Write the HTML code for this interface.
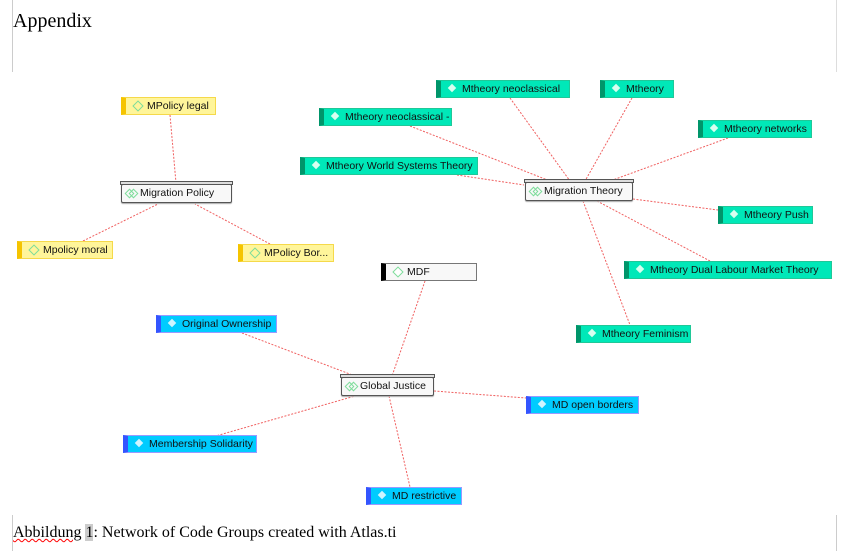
<!DOCTYPE html>
<html><head><style>
body{margin:0;width:844px;height:551px;background:#fff;position:relative;overflow:hidden;font-family:"Liberation Sans",Arial,sans-serif}
.n{position:absolute;height:18px;box-sizing:border-box;font-size:10.5px;line-height:16px;color:#111;padding-left:21px;white-space:nowrap;border:1px solid}
.n:before{content:"";position:absolute;left:8px;top:4px;width:6px;height:6px;transform:rotate(45deg);}
.y{background:#fff59a;border-color:#f5d94a;border-left:5px solid #f5c400}
.y:before{border:1px solid #7ddc9a;background:#fff59a}
.g{background:#00e8b8;border-color:#20c898;border-left:5px solid #00956a}
.g:before{background:#d8fff0}
.b{background:#00ccff;border-color:#9999ff;border-left:5px solid #3355ff}
.b:before{background:#d0f4ff}
.w{background:#f8f8f8;border-color:#777;border-left:5px solid #000}
.w:before{border:1px solid #7ddc9a;background:#fff}
.grp{position:absolute;height:19px;box-sizing:border-box;border:1px solid #555;border-radius:2px;background:#f8f8f8;font-size:10.5px;line-height:17px;padding-left:18px;color:#111;box-shadow:0 1px 1px #aaa}
.grp:before{content:"";position:absolute;left:-2px;right:-2px;top:-4px;height:2px;border:1px solid #555;background:#ddd}
.gi{position:absolute;left:4px;top:5px;width:5px;height:5px;border:1px solid #7ddc9a;transform:rotate(45deg)}
.gi2{left:8px}
.t{position:absolute;font-family:"Liberation Serif",serif;color:#000}
</style></head><body>
<div style="position:absolute;left:12px;top:0;width:1px;height:72px;background:#ccc"></div>
<div style="position:absolute;left:836px;top:0;width:1px;height:72px;background:#ddd"></div>
<div style="position:absolute;left:12px;top:515px;width:1px;height:36px;background:#ccc"></div>
<div style="position:absolute;left:836px;top:515px;width:1px;height:36px;background:#ccc"></div>
<div class="t" style="left:13px;top:10px;font-size:20px">Appendix</div>
<div class="t" style="left:13px;top:524px;font-size:16px"><span style="text-decoration:underline wavy red;text-decoration-thickness:1px">Abbildung</span> <span style="background:#ccc">1</span>: Network of Code Groups created with Atlas.ti</div>
<svg width="844" height="551" style="position:absolute;left:0;top:0" fill="none" stroke="#f06060" stroke-width="1" stroke-dasharray="2,1.5">
<line x1="170" y1="115" x2="176" y2="183"/>
<line x1="83" y1="241" x2="158" y2="204"/>
<line x1="270" y1="244" x2="195" y2="204"/>
<line x1="510" y1="98" x2="570" y2="181"/>
<line x1="632" y1="98" x2="585" y2="181"/>
<line x1="410" y1="126" x2="550" y2="181"/>
<line x1="457" y1="175" x2="524" y2="185"/>
<line x1="728" y1="138" x2="610" y2="181"/>
<line x1="633" y1="199" x2="718" y2="210"/>
<line x1="597" y1="201" x2="710" y2="261"/>
<line x1="583" y1="201" x2="630" y2="325"/>
<line x1="425" y1="281" x2="392" y2="376"/>
<line x1="242" y1="333" x2="355" y2="376"/>
<line x1="160" y1="452" x2="355" y2="396"/>
<line x1="434" y1="391" x2="526" y2="398"/>
<line x1="389" y1="396" x2="410" y2="487"/>
</svg>
<div class="n y" style="left:121px;top:97px;width:95px">MPolicy legal</div>
<div class="n y" style="left:17px;top:241px;width:96px">Mpolicy moral</div>
<div class="n y" style="left:238px;top:244px;width:96px">MPolicy Bor...</div>
<div class="grp" style="left:121px;top:184px;width:111px"><i class="gi"></i><i class="gi gi2"></i>Migration Policy</div>
<div class="n g" style="left:436px;top:80px;width:134px">Mtheory neoclassical</div>
<div class="n g" style="left:600px;top:80px;width:74px">Mtheory</div>
<div class="n g" style="left:319px;top:108px;width:133px">Mtheory neoclassical -</div>
<div class="n g" style="left:698px;top:120px;width:114px">Mtheory networks</div>
<div class="n g" style="left:300px;top:157px;width:178px">Mtheory World Systems Theory</div>
<div class="n g" style="left:718px;top:206px;width:95px">Mtheory Push</div>
<div class="n g" style="left:624px;top:261px;width:208px">Mtheory Dual Labour Market Theory</div>
<div class="n g" style="left:576px;top:325px;width:115px">Mtheory Feminism</div>
<div class="grp" style="left:525px;top:182px;width:108px"><i class="gi"></i><i class="gi gi2"></i>Migration Theory</div>
<div class="n w" style="left:381px;top:263px;width:96px">MDF</div>
<div class="n b" style="left:156px;top:315px;width:121px">Original Ownership</div>
<div class="n b" style="left:123px;top:435px;width:134px">Membership Solidarity</div>
<div class="n b" style="left:526px;top:396px;width:113px">MD open borders</div>
<div class="n b" style="left:366px;top:487px;width:96px">MD restrictive</div>
<div class="grp" style="left:341px;top:377px;width:93px"><i class="gi"></i><i class="gi gi2"></i>Global Justice</div>
</body></html>
